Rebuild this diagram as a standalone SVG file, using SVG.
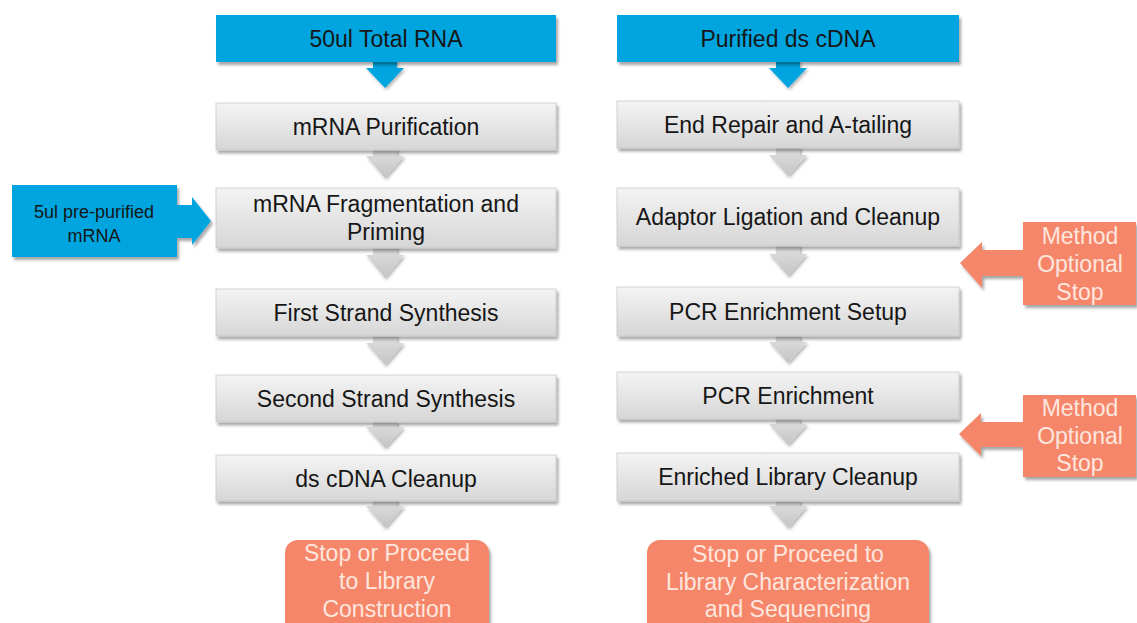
<svg xmlns="http://www.w3.org/2000/svg" width="1137" height="623" viewBox="0 0 1137 623">
<defs>
<linearGradient id="gGray" x1="0" y1="0" x2="0" y2="1">
<stop offset="0" stop-color="#f4f4f4"/>
<stop offset="1" stop-color="#d6d6d6"/>
</linearGradient>
<linearGradient id="gChev" x1="0" y1="0" x2="0" y2="1">
<stop offset="0" stop-color="#e0e0e0"/>
<stop offset="1" stop-color="#c4c4c4"/>
</linearGradient>
<filter id="sh" x="-10%" y="-10%" width="125%" height="140%">
<feDropShadow dx="2" dy="3" stdDeviation="1.6" flood-color="#000" flood-opacity="0.35"/>
</filter>
<filter id="shs" x="-30%" y="-30%" width="160%" height="160%">
<feDropShadow dx="1.5" dy="2" stdDeviation="1.5" flood-color="#000" flood-opacity="0.3"/>
</filter>
</defs>
<style>
.gray{fill:url(#gGray);stroke:#c8c8c8;stroke-width:0.8;filter:url(#sh)}
.blue{fill:#00a5df;filter:url(#sh)}
.orange{fill:#f5866a;filter:url(#sh)}
.chev{fill:url(#gChev);filter:url(#shs)}
.bchev{fill:#00a5df;filter:url(#shs)}
.t{font-family:"Liberation Sans",Arial,sans-serif;font-size:23px;fill:#161616;text-anchor:middle}
.ts{font-family:"Liberation Sans",Arial,sans-serif;font-size:18px;fill:#161616;text-anchor:middle}
.to{font-family:"Liberation Sans",Arial,sans-serif;font-size:23px;fill:#fde6de;text-anchor:middle}
</style>
<rect width="1137" height="623" fill="#ffffff"/>

<g id="connectors">
<path class="bchev" d="M373 60 H397 V68 H404 L385 88 L366 68 H373 Z"/>
<path class="chev" d="M373 148 H397 V156 H404 L385 178 L366 156 H373 Z"/>
<path class="chev" d="M373 246 H397 V255 H404 L385 278 L366 255 H373 Z"/>
<path class="chev" d="M373 335 H397 V343 H404 L385 365 L366 343 H373 Z"/>
<path class="chev" d="M373 421 H397 V427 H404 L385 448 L366 427 H373 Z"/>
<path class="chev" d="M373 499 H397 V506 H404 L385 528 L366 506 H373 Z"/>
<path class="bchev" d="M776 60 H800 V68 H807 L788 88 L769 68 H776 Z"/>
<path class="chev" d="M776 147 H800 V155 H807 L788 176 L769 155 H776 Z"/>
<path class="chev" d="M776 245 H800 V254 H807 L788 276 L769 254 H776 Z"/>
<path class="chev" d="M776 335 H800 V342 H807 L788 363 L769 342 H776 Z"/>
<path class="chev" d="M776 418 H800 V424 H807 L788 445 L769 424 H776 Z"/>
<path class="chev" d="M776 500 H800 V506 H807 L788 528 L769 506 H776 Z"/>
</g>

<g id="n-total-rna">
<rect class="blue" x="216" y="15" width="340" height="47"/>
<text class="t" x="386" y="47">50ul Total RNA</text>
</g>
<g id="n-mrna-purification">
<rect class="gray" x="216" y="103" width="340" height="47"/>
<text class="t" x="386" y="135">mRNA Purification</text>
</g>
<g id="n-prepurified">
<path class="blue" d="M12 185 H177 V205 H192 V197 L211 221 L192 245 V238 H177 V257 H12 Z"/>
<text class="ts" x="94" y="218">5ul pre-purified</text>
<text class="ts" x="94" y="242">mRNA</text>
</g>
<g id="n-fragmentation">
<rect class="gray" x="216" y="188" width="340" height="60"/>
<text class="t" x="386" y="212">mRNA Fragmentation and</text>
<text class="t" x="386" y="240">Priming</text>
</g>
<g id="n-first-strand">
<rect class="gray" x="216" y="289" width="340" height="47"/>
<text class="t" x="386" y="321">First Strand Synthesis</text>
</g>
<g id="n-second-strand">
<rect class="gray" x="216" y="375" width="340" height="47"/>
<text class="t" x="386" y="407">Second Strand Synthesis</text>
</g>
<g id="n-ds-cleanup">
<rect class="gray" x="216" y="455" width="340" height="46"/>
<text class="t" x="386" y="487">ds cDNA Cleanup</text>
</g>
<g id="n-stop-left">
<rect class="orange" x="285" y="540" width="204" height="95" rx="13"/>
<text class="to" x="387" y="561">Stop or Proceed</text>
<text class="to" x="387" y="589">to Library</text>
<text class="to" x="387" y="617">Construction</text>
</g>

<g id="n-purified-cdna">
<rect class="blue" x="617" y="15" width="342" height="47"/>
<text class="t" x="788" y="47">Purified ds cDNA</text>
</g>
<g id="n-end-repair">
<rect class="gray" x="617" y="101" width="342" height="47"/>
<text class="t" x="788" y="133">End Repair and A-tailing</text>
</g>
<g id="n-adaptor">
<rect class="gray" x="617" y="188" width="342" height="58"/>
<text class="t" x="788" y="225">Adaptor Ligation and Cleanup</text>
</g>
<g id="n-pcr-setup">
<rect class="gray" x="617" y="287" width="342" height="49"/>
<text class="t" x="788" y="320">PCR Enrichment Setup</text>
</g>
<g id="n-pcr">
<rect class="gray" x="617" y="372" width="342" height="47"/>
<text class="t" x="788" y="404">PCR Enrichment</text>
</g>
<g id="n-enriched-cleanup">
<rect class="gray" x="617" y="453" width="342" height="48"/>
<text class="t" x="788" y="485">Enriched Library Cleanup</text>
</g>
<g id="n-stop-right">
<rect class="orange" x="647" y="540" width="282" height="95" rx="13"/>
<text class="to" x="788" y="562">Stop or Proceed to</text>
<text class="to" x="788" y="590">Library Characterization</text>
<text class="to" x="788" y="617">and Sequencing</text>
</g>

<g id="n-optional-stop-1">
<path class="orange" d="M1023 222 H1136 V305 H1023 V276 H982 V288 L960 263 L982 242 V250 H1023 Z"/>
<text class="to" x="1080" y="244">Method</text>
<text class="to" x="1080" y="272">Optional</text>
<text class="to" x="1080" y="300">Stop</text>
</g>
<g id="n-optional-stop-2">
<path class="orange" d="M1023 395 H1136 V477 H1023 V447 H981 V456 L959 434 L981 413 V422 H1023 Z"/>
<text class="to" x="1080" y="416">Method</text>
<text class="to" x="1080" y="444">Optional</text>
<text class="to" x="1080" y="471">Stop</text>
</g>
</svg>
